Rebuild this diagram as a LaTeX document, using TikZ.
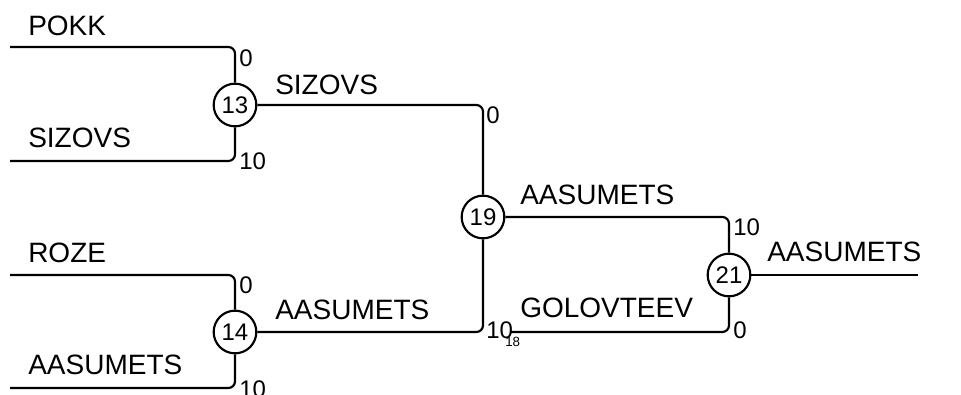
\documentclass[tikz,border=0pt]{standalone}
\usepackage{fontspec}
\setmainfont{Liberation Sans}
\usetikzlibrary{
	positioning,						% Relative positioning
	calc								% Calculate point coordinates
}

\begin{document}
\begin{tikzpicture}
		[
		,x=0.75pt
		,y=-0.75pt
		,match/.style = {
			,draw=black
			,circle
			,minimum size=32pt
			,inner sep=0pt
			,line width=1.6pt
			,font=\fontsize{18}{18}\selectfont}
		,branch/.style = {
			,line width=1.6pt
			,rounded corners=5pt}
		,name_label/.style = {
			,anchor=base west
			,inner sep=0pt
			,font=\fontsize{21}{21}\selectfont}
		,score_label/.style = {
			,anchor=west
			,inner sep=0pt
			,font=\fontsize{18}{18}\selectfont}
		]

		\useasboundingbox (0,0) rectangle (961,395);

		% Matches
		\node [match] (m13) at (235,105) {13};
		\node [match] (m14) at (235,332) {14};
		\node [match] (m19) at (483,217) {19};
		\node [match] (m21) at (729,275) {21};

		% Free ends
		\coordinate (pokk)   at (10,47);
		\coordinate (sizovs) at (10,161);
		\coordinate (roze)   at (10,275);
		\coordinate (aasum)  at (10,388);
		\coordinate (golov)  at (510,332);
		\coordinate (winner) at (918,275);

		% Branches
		\draw [branch] (pokk)   -| (m13.north);
		\draw [branch] (sizovs) -| (m13.south);
		\draw [branch] (roze)   -| (m14.north);
		\draw [branch] (aasum)  -| (m14.south);
		\draw [branch] (m13.east) -| (m19.north);
		\draw [branch] (m14.east) -| (m19.south);
		\draw [branch] (m19.east) -| (m21.north);
		\draw [branch] (golov)    -| (m21.south);
		\draw [branch] (m21.east) -- (winner);

		% Names
		\node [name_label] at (28,36)   {POKK};
		\node [name_label] at (28,148)  {SIZOVS};
		\node [name_label] at (28,263)  {ROZE};
		\node [name_label] at (28,375)  {AASUMETS};
		\node [name_label] at (275,95)  {SIZOVS};
		\node [name_label] at (275,320) {AASUMETS};
		\node [name_label] at (520,205) {AASUMETS};
		\node [name_label] at (520,318) {GOLOVTEEV};
		\node [name_label] at (767,262) {AASUMETS};

		% Scores
		\node [score_label] at (239,58)  {0};
		\node [score_label] at (239,161) {10};
		\node [score_label] at (239,285) {0};
		\node [score_label] at (239,389) {10};
		\node [score_label] at (486,115) {0};
		\node [score_label] at (486,330) {10};
		\node [score_label] at (733,227) {10};
		\node [score_label] at (733,330) {0};
		\node [score_label, font=\fontsize{10}{10}\selectfont] at (505,342) {18};
	\end{tikzpicture}
\end{document}
